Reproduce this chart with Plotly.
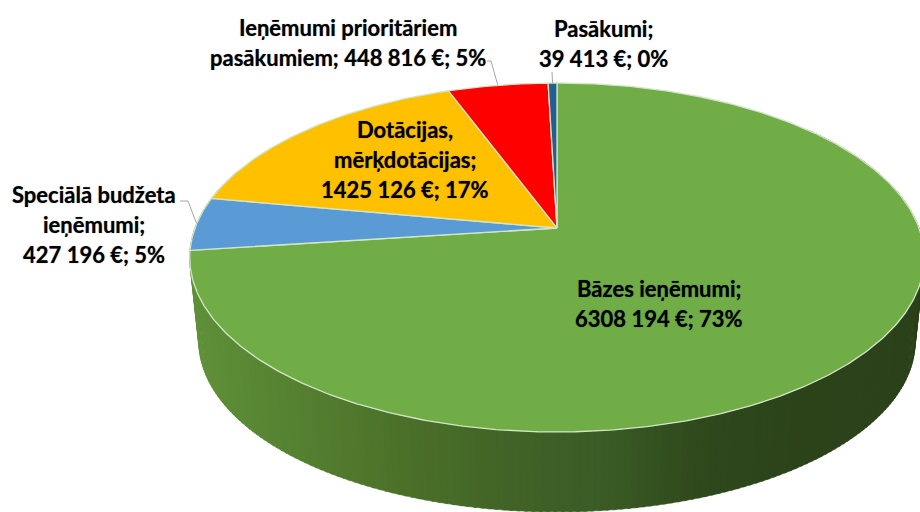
import math
import plotly.graph_objects as go

# ---- data (clockwise from the top of the pie) ----
categories = ["Bāzes ieņēmumi", "Speciālā budžeta ieņēmumi", "Dotācijas, mērķdotācijas",
              "Ieņēmumi prioritāriem pasākumiem", "Pasākumi"]
values = [6308194, 427196, 1425126, 448816, 39413]
colors = ["#70AD47", "#5B9BD5", "#FFC000", "#FF0000", "#255E91"]
label_lines = [
    ["Bāzes ieņēmumi;", "6308 194 €; 73%"],
    ["Speciālā budžeta", "ieņēmumi;", "427 196 €; 5%"],
    ["Dotācijas,", "mērķdotācijas;", "1425 126 €; 17%"],
    ["Ieņēmumi prioritāriem", "pasākumiem; 448 816 €; 5%"],
    ["Pasākumi;", "39 413 €; 0%"],
]

# ---- layout / projection ----
W, H = 920, 512
CX, CY = 557.0, 228.0
B, A, P = 362.0, 169.5, 0.169   # perspective view of the circular pie top
DEPTH_Y, DEPTH_S = 85.0, 0.975  # bottom rim of the cylinder
label_pos = [(659, 288), (94, 194), (405, 129), (348, 27), (603, 28)]
LINE_STEP = 30
FONT = "Lato, Carlito, Calibri, sans-serif"
FONT_SIZE = 22
wall_stops = [(190, (96, 145, 57)), (300, (84, 128, 48)), (400, (75, 113, 41)),
              (500, (66, 100, 39)), (600, (58, 92, 38)), (700, (47, 72, 28)),
              (800, (44, 67, 26)), (920, (43, 65, 26))]
# elbows of the leader lines for the outside labels: slice index -> points before the rim
leaders = {1: [(180, 201), (188, 201)], 3: [(487, 61), (491, 61)], 4: [(552, 72)]}


def rim(theta_deg, s=1.0, dy=0.0):
    t = math.radians(theta_deg)
    u, v = math.sin(t), math.cos(t)
    d = 1 + P * v
    return CX + s * B * u / d, CY + dy - s * A * v / d


def wall_color(x):
    for (x0, c0), (x1, c1) in zip(wall_stops, wall_stops[1:]):
        if x <= x1:
            f = max(0.0, (x - x0) / (x1 - x0))
            return "rgb(%d,%d,%d)" % tuple(round(a + (b - a) * f) for a, b in zip(c0, c1))
    return "rgb(%d,%d,%d)" % wall_stops[-1][1]


fig = go.Figure()
total = sum(values)
edges = [0.0]
for val in values:
    edges.append(edges[-1] + 360.0 * val / total)

# side wall: narrow strips, so that the colour can vary along it
STEP = 1.0
th = 50.0
while th < 290.0:
    pts = [rim(th), rim(th + STEP + 0.4), rim(th + STEP + 0.4, DEPTH_S, DEPTH_Y), rim(th, DEPTH_S, DEPTH_Y)]
    xs = [p[0] for p in pts] + [pts[0][0]]
    ys = [p[1] for p in pts] + [pts[0][1]]
    c = wall_color(sum(xs[:4]) / 4)
    fig.add_trace(go.Scatter(x=xs, y=ys, mode="lines", fill="toself", fillcolor=c,
                             line=dict(width=0.5, color=c), hoverinfo="skip", showlegend=False))
    th += STEP

# top face
for i, name in enumerate(categories):
    a0, a1 = edges[i], edges[i + 1]
    n = max(2, int((a1 - a0) / 0.5))
    arc = [rim(a0 + (a1 - a0) * k / n) for k in range(n + 1)]
    xs = [CX] + [p[0] for p in arc] + [CX]
    ys = [CY] + [p[1] for p in arc] + [CY]
    fig.add_trace(go.Scatter(x=xs, y=ys, mode="lines", fill="toself", fillcolor=colors[i],
                             line=dict(width=1.3, color="#D3E5C6"), name=name,
                             hoverinfo="name", showlegend=False))

# leader lines
for i, elbow in leaders.items():
    mid = rim((edges[i] + edges[i + 1]) / 2)
    fig.add_trace(go.Scatter(x=[p[0] for p in elbow] + [mid[0]], y=[p[1] for p in elbow] + [mid[1]],
                             mode="lines", line=dict(width=1, color="#A6A6A6"),
                             hoverinfo="skip", showlegend=False))

# labels
for lines, (lx, ly) in zip(label_lines, label_pos):
    for j, line in enumerate(lines):
        fig.add_annotation(x=lx, y=ly + j * LINE_STEP, text="<b>%s</b>" % line, showarrow=False,
                           xanchor="center", yanchor="middle",
                           font=dict(family=FONT, size=FONT_SIZE, color="#000000",
                                     shadow="0 0 1px rgba(0,0,0,0.55)"))

fig.update_layout(
    width=W, height=H, margin=dict(l=0, r=0, t=0, b=0),
    paper_bgcolor="white", plot_bgcolor="white", showlegend=False,
    xaxis=dict(range=[0, W], visible=False, fixedrange=True),
    yaxis=dict(range=[H, 0], visible=False, fixedrange=True),
)
fig.write_html("out.html", config={"displayModeBar": False},
               post_script="document.body.style.margin='0';document.body.style.overflow='hidden';")
